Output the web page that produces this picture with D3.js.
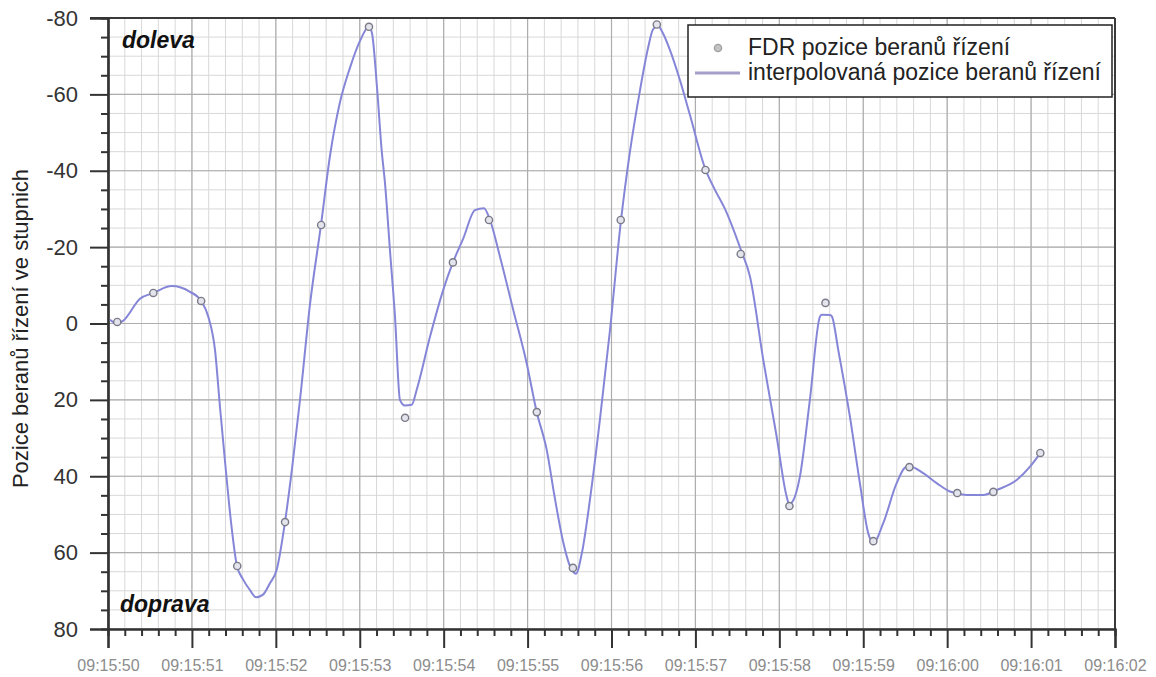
<!DOCTYPE html>
<html>
<head>
<meta charset="utf-8">
<script src="https://cdn.jsdelivr.net/npm/d3@7"></script>
<style>
html,body{margin:0;padding:0;background:#fff;}
svg{display:block;font-family:"Liberation Sans",Arial,sans-serif;}
</style>
</head>
<body>
<svg id="chart" width="1156" height="677"></svg>
<script>
// ---- data ----
const xTickLabels = ["09:15:50","09:15:51","09:15:52","09:15:53","09:15:54","09:15:55","09:15:56","09:15:57","09:15:58","09:15:59","09:16:00","09:16:01","09:16:02"];
const yTickValues = [-80,-60,-40,-20,0,20,40,60,80];
const yLabel = "Pozice beranů řízení ve stupnich";
const legendLabels = ["FDR pozice beranů řízení","interpolovaná pozice beranů řízení"];
const noteTop = "doleva";
const noteBottom = "doprava";

// FDR samples: seconds after 09:15:50, value in degrees
const fdrTimes  = [0.11,0.54,1.11,1.54,2.11,2.54,3.11,3.54,4.11,4.54,5.11,5.54,6.11,6.54,7.12,7.54,8.12,8.55,9.12,9.55,10.12,10.55,11.11];
const fdrValues = [-0.4,-8,-5.9,63.5,52,-25.8,-77.7,24.7,-16,-27.1,23.2,64,-27.1,-78.3,-40.2,-18.2,47.8,-5.4,57,37.6,44.4,44.1,33.9];

// interpolated curve
const lineTimes  = [0.024,0.104,0.179,0.381,0.540,0.759,0.977,1.117,1.195,1.275,1.335,1.394,1.466,1.537,1.609,1.692,1.764,1.847,1.930,2.010,2.109,2.193,2.288,2.407,2.538,2.646,2.765,2.884,3.003,3.110,3.146,3.205,3.261,3.301,3.360,3.420,3.479,3.539,3.619,3.678,3.837,3.995,4.107,4.234,4.373,4.480,4.552,4.671,4.830,4.989,5.108,5.228,5.327,5.422,5.505,5.577,5.648,5.744,5.863,5.982,6.113,6.220,6.339,6.434,6.494,6.554,6.613,6.697,6.816,6.935,7.114,7.233,7.352,7.543,7.650,7.809,7.968,8.087,8.118,8.162,8.245,8.364,8.484,8.508,8.603,8.627,8.702,8.841,8.960,9.059,9.119,9.238,9.398,9.517,9.565,9.715,9.875,10.033,10.232,10.430,10.590,10.828,10.987,11.114];
const lineValues = [-1,0,-0.7,-6.5,-8,-9.8,-8.3,-5.7,-1.8,6.9,22,36,52,63.5,67,69.8,71.7,71,68,64.5,52,38,20,-5,-25.8,-44,-58,-67,-74,-77.7,-76,-62,-45.4,-36.7,-19.2,-1.8,20,21.5,21.3,17.4,3.5,-8.8,-15.8,-22.3,-29.7,-30.2,-27.1,-17.5,-3.5,10.4,23.1,33.1,46,57,63.5,65.5,60,46,25,1.7,-27,-45,-61,-72,-77,-78,-76,-71.6,-63.7,-54.6,-40.7,-35,-30,-19.2,-12.3,9.6,29.6,45.3,47.3,46.5,40.1,20,-1.8,-2.3,-2.2,-1.8,6.9,24.4,41.8,54.9,57.5,52.3,41.8,37.5,37.5,39.2,41.8,44,44.9,44.9,43.6,41,37.5,33.8];

// ---- chart ----
const W = 1156, H = 677;
const m = {top:18, right:41, bottom:48, left:108};
const svg = d3.select("#chart");
const parse = d3.timeParse("%H:%M:%S");
const t0 = parse(xTickLabels[0]);
const tEnd = parse(xTickLabels[xTickLabels.length-1]);
const sec = s => new Date(t0.getTime() + s*1000);

const x = d3.scaleTime().domain([t0, tEnd]).range([m.left, W - m.right]);
const y = d3.scaleLinear().domain([yTickValues[0], yTickValues[yTickValues.length-1]]).range([m.top, H - m.bottom]);

// grid
const minorX = d3.timeMillisecond.every(200).range(t0, new Date(tEnd.getTime()+1));
const majorX = xTickLabels.map(parse);
const minorY = d3.range(yTickValues[0], yTickValues[yTickValues.length-1]+1, 5);
const g = svg.append("g");
g.selectAll(".gxm").data(minorX).join("line")
  .attr("x1", d=>x(d)).attr("x2", d=>x(d)).attr("y1", y.range()[0]).attr("y2", y.range()[1])
  .attr("stroke", "#d8d8d8").attr("stroke-width", 1);
g.selectAll(".gym").data(minorY).join("line")
  .attr("y1", d=>y(d)).attr("y2", d=>y(d)).attr("x1", x.range()[0]).attr("x2", x.range()[1])
  .attr("stroke", "#d8d8d8").attr("stroke-width", 1);
g.selectAll(".gxM").data(majorX).join("line")
  .attr("x1", d=>x(d)).attr("x2", d=>x(d)).attr("y1", y.range()[0]).attr("y2", y.range()[1])
  .attr("stroke", "#adadad").attr("stroke-width", 1.2);
g.selectAll(".gyM").data(yTickValues).join("line")
  .attr("y1", d=>y(d)).attr("y2", d=>y(d)).attr("x1", x.range()[0]).attr("x2", x.range()[1])
  .attr("stroke", "#adadad").attr("stroke-width", 1.2);

// frame (top + right)
svg.append("line").attr("x1", m.left-18).attr("x2", x.range()[1]).attr("y1", y.range()[0]).attr("y2", y.range()[0])
  .attr("stroke", "#3a3a3a").attr("stroke-width", 2);
svg.append("line").attr("x1", x.range()[1]).attr("x2", x.range()[1]).attr("y1", y.range()[0]).attr("y2", y.range()[1])
  .attr("stroke", "#3a3a3a").attr("stroke-width", 2);

// axes
const yMinor = svg.append("g").attr("transform", `translate(${m.left},0)`)
  .call(d3.axisLeft(y).tickValues(minorY.filter(v=>!yTickValues.includes(v))).tickSize(7).tickFormat(""));
const yAxis = svg.append("g").attr("transform", `translate(${m.left},0)`)
  .call(d3.axisLeft(y).tickValues(yTickValues).tickSize(18).tickPadding(12).tickFormat(d => String(d)));
const xMinor = svg.append("g").attr("transform", `translate(0,${y.range()[1]})`)
  .call(d3.axisBottom(x).tickValues(minorX.filter((d,i)=>i%5!==0)).tickSize(7).tickFormat(""));
const xAxis = svg.append("g").attr("transform", `translate(0,${y.range()[1]})`)
  .call(d3.axisBottom(x).tickValues(majorX).tickSize(19).tickPadding(12).tickFormat((d,i) => xTickLabels[i]));

[yMinor, yAxis, xMinor, xAxis].forEach(a => {
  a.select(".domain").attr("stroke", "#333").attr("stroke-width", 2.2);
  a.selectAll(".tick line").attr("stroke", "#333").attr("stroke-width", 2);
});
yAxis.selectAll(".tick text").attr("font-size", 22).attr("fill", "#333").attr("font-family", "Liberation Sans, Arial, sans-serif");
xAxis.selectAll(".tick text").attr("font-size", 16).attr("fill", "#8c8c8c").attr("font-family", "Liberation Sans, Arial, sans-serif");

// y label
svg.append("text").attr("transform", `translate(28,${(y.range()[0]+y.range()[1])/2 + 5}) rotate(-90)`)
  .attr("text-anchor", "middle").attr("font-size", 22).attr("fill", "#222").text(yLabel);

// notes
svg.append("text").attr("x", 122).attr("y", 48).attr("font-size", 23).attr("font-weight", "bold")
  .attr("font-style", "italic").attr("fill", "#111").text(noteTop);
svg.append("text").attr("x", 120).attr("y", 612).attr("font-size", 23).attr("font-weight", "bold")
  .attr("font-style", "italic").attr("fill", "#111").text(noteBottom);

// interpolated line
const lineData = lineTimes.map((t,i)=>({t:sec(t), v:lineValues[i]}));
svg.append("path").datum(lineData)
  .attr("fill", "none").attr("stroke", "#8686d8").attr("stroke-width", 2).attr("stroke-linejoin", "round")
  .attr("d", d3.line().x(d=>x(d.t)).y(d=>y(d.v)).curve(d3.curveMonotoneX));

// FDR points
const pts = fdrTimes.map((t,i)=>({t:sec(t), v:fdrValues[i]}));
svg.append("g").selectAll("circle").data(pts).join("circle")
  .attr("cx", d=>x(d.t)).attr("cy", d=>y(d.v)).attr("r", 3.6)
  .attr("fill", "#e4e4ec").attr("stroke", "#7a7a88").attr("stroke-width", 1.4);

// legend
const lg = svg.append("g");
lg.append("rect").attr("x", 688).attr("y", 25).attr("width", 424).attr("height", 72)
  .attr("fill", "#fff").attr("stroke", "#222").attr("stroke-width", 1.5);
lg.append("circle").attr("cx", 718).attr("cy", 48).attr("r", 3.6)
  .attr("fill", "#c4c4c4").attr("stroke", "#a0a0a0").attr("stroke-width", 1.4);
lg.append("line").attr("x1", 695).attr("x2", 740).attr("y1", 73).attr("y2", 73)
  .attr("stroke", "#a59fc9").attr("stroke-width", 3);
lg.selectAll("text").data(legendLabels).join("text")
  .attr("x", 748).attr("y", (d,i)=>55 + i*25).attr("font-size", 23).attr("fill", "#222").text(d=>d);
</script>
</body>
</html>
